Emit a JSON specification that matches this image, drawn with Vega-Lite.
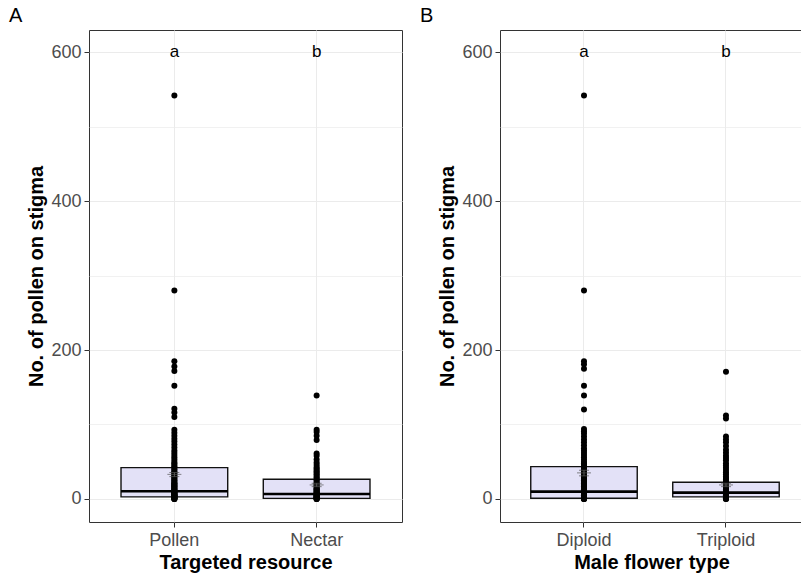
{
  "$schema": "https://vega.github.io/schema/vega-lite/v6.json",
  "padding": {"left": 8, "top": 5, "right": 0, "bottom": 0},
  "spacing": 16,
  "config": {
    "font": "Liberation Sans",
    "view": {"stroke": "#333333", "strokeWidth": 1},
    "axis": {
      "domain": false,
      "tickColor": "#333333",
      "tickSize": 5,
      "labelColor": "#4D4D4D",
      "labelFontSize": 18,
      "labelFont": "Liberation Sans",
      "titleFont": "Liberation Sans",
      "titleFontSize": 20,
      "titleFontWeight": "bold",
      "titleColor": "black",
      "gridColor": "#EBEBEB",
      "gridWidth": 1
    },
    "axisY": {"labelPadding": 3, "titlePadding": 4},
    "axisX": {"labelPadding": 4, "titlePadding": 3, "labelAngle": 0},
    "title": {"fontSize": 20, "fontWeight": "normal", "anchor": "start", "frame": "group", "dx": -80, "offset": 4, "color": "black", "font": "Liberation Sans"}
  },
  "datasets": {
    "statsA": [
      {"group": "Pollen", "lower": 0, "q1": 2.7, "median": 10.3, "q3": 42, "upper": 93, "mean": 33, "se_lo": 30, "se_hi": 35.5},
      {"group": "Nectar", "lower": 0, "q1": 0.8, "median": 6.7, "q3": 26.4, "upper": 61, "mean": 18.8, "se_lo": 16.5, "se_hi": 21}
    ],
    "statsB": [
      {"group": "Diploid", "lower": 0, "q1": 1, "median": 9.8, "q3": 43.4, "upper": 94, "mean": 35, "se_lo": 31, "se_hi": 38.5},
      {"group": "Triploid", "lower": 0, "q1": 2.7, "median": 8.5, "q3": 22.4, "upper": 52, "mean": 18.8, "se_lo": 16.5, "se_hi": 21}
    ],
    "lettersA": [
      {"group": "Pollen", "y": 600, "label": "a"},
      {"group": "Nectar", "y": 600, "label": "b"}
    ],
    "lettersB": [
      {"group": "Diploid", "y": 600, "label": "a"},
      {"group": "Triploid", "y": 600, "label": "b"}
    ],
    "ptsA": [
      {"group": "Pollen", "value": 542}, {"group": "Pollen", "value": 280}, {"group": "Pollen", "value": 185}, {"group": "Pollen", "value": 178},
      {"group": "Pollen", "value": 172}, {"group": "Pollen", "value": 152}, {"group": "Pollen", "value": 121}, {"group": "Pollen", "value": 116},
      {"group": "Pollen", "value": 110}, {"group": "Pollen", "value": 93}, {"group": "Pollen", "value": 89}, {"group": "Pollen", "value": 85},
      {"group": "Pollen", "value": 81}, {"group": "Pollen", "value": 77}, {"group": "Pollen", "value": 73}, {"group": "Pollen", "value": 69},
      {"group": "Pollen", "value": 65}, {"group": "Pollen", "value": 62}, {"group": "Pollen", "value": 59}, {"group": "Pollen", "value": 56},
      {"group": "Pollen", "value": 53}, {"group": "Pollen", "value": 50}, {"group": "Pollen", "value": 48}, {"group": "Pollen", "value": 46},
      {"group": "Pollen", "value": 44}, {"group": "Pollen", "value": 42}, {"group": "Pollen", "value": 40}, {"group": "Pollen", "value": 38},
      {"group": "Pollen", "value": 36}, {"group": "Pollen", "value": 35}, {"group": "Pollen", "value": 33}, {"group": "Pollen", "value": 31},
      {"group": "Pollen", "value": 30}, {"group": "Pollen", "value": 28}, {"group": "Pollen", "value": 27}, {"group": "Pollen", "value": 25},
      {"group": "Pollen", "value": 24}, {"group": "Pollen", "value": 22}, {"group": "Pollen", "value": 21}, {"group": "Pollen", "value": 20},
      {"group": "Pollen", "value": 19}, {"group": "Pollen", "value": 18}, {"group": "Pollen", "value": 17}, {"group": "Pollen", "value": 16},
      {"group": "Pollen", "value": 15}, {"group": "Pollen", "value": 14}, {"group": "Pollen", "value": 13}, {"group": "Pollen", "value": 12},
      {"group": "Pollen", "value": 11}, {"group": "Pollen", "value": 10}, {"group": "Pollen", "value": 10}, {"group": "Pollen", "value": 9},
      {"group": "Pollen", "value": 8}, {"group": "Pollen", "value": 8}, {"group": "Pollen", "value": 7}, {"group": "Pollen", "value": 6},
      {"group": "Pollen", "value": 6}, {"group": "Pollen", "value": 5}, {"group": "Pollen", "value": 5}, {"group": "Pollen", "value": 4},
      {"group": "Pollen", "value": 4}, {"group": "Pollen", "value": 3}, {"group": "Pollen", "value": 3}, {"group": "Pollen", "value": 2},
      {"group": "Pollen", "value": 2}, {"group": "Pollen", "value": 1}, {"group": "Pollen", "value": 1}, {"group": "Pollen", "value": 0},
      {"group": "Pollen", "value": 0}, {"group": "Pollen", "value": 0},
      {"group": "Nectar", "value": 139}, {"group": "Nectar", "value": 93}, {"group": "Nectar", "value": 90}, {"group": "Nectar", "value": 85},
      {"group": "Nectar", "value": 79}, {"group": "Nectar", "value": 61}, {"group": "Nectar", "value": 58}, {"group": "Nectar", "value": 53},
      {"group": "Nectar", "value": 49}, {"group": "Nectar", "value": 46}, {"group": "Nectar", "value": 43}, {"group": "Nectar", "value": 41},
      {"group": "Nectar", "value": 39}, {"group": "Nectar", "value": 37}, {"group": "Nectar", "value": 35}, {"group": "Nectar", "value": 33},
      {"group": "Nectar", "value": 31}, {"group": "Nectar", "value": 29}, {"group": "Nectar", "value": 27}, {"group": "Nectar", "value": 25},
      {"group": "Nectar", "value": 23}, {"group": "Nectar", "value": 21}, {"group": "Nectar", "value": 20}, {"group": "Nectar", "value": 18},
      {"group": "Nectar", "value": 17}, {"group": "Nectar", "value": 15}, {"group": "Nectar", "value": 14}, {"group": "Nectar", "value": 13},
      {"group": "Nectar", "value": 12}, {"group": "Nectar", "value": 11}, {"group": "Nectar", "value": 10}, {"group": "Nectar", "value": 9},
      {"group": "Nectar", "value": 8}, {"group": "Nectar", "value": 7}, {"group": "Nectar", "value": 6}, {"group": "Nectar", "value": 6},
      {"group": "Nectar", "value": 5}, {"group": "Nectar", "value": 4}, {"group": "Nectar", "value": 4}, {"group": "Nectar", "value": 3},
      {"group": "Nectar", "value": 3}, {"group": "Nectar", "value": 2}, {"group": "Nectar", "value": 2}, {"group": "Nectar", "value": 1},
      {"group": "Nectar", "value": 1}, {"group": "Nectar", "value": 0}, {"group": "Nectar", "value": 0}, {"group": "Nectar", "value": 0}
    ],
    "ptsB": [
      {"group": "Diploid", "value": 542}, {"group": "Diploid", "value": 280}, {"group": "Diploid", "value": 185}, {"group": "Diploid", "value": 181},
      {"group": "Diploid", "value": 175}, {"group": "Diploid", "value": 152}, {"group": "Diploid", "value": 139}, {"group": "Diploid", "value": 120},
      {"group": "Diploid", "value": 94}, {"group": "Diploid", "value": 91}, {"group": "Diploid", "value": 88}, {"group": "Diploid", "value": 84},
      {"group": "Diploid", "value": 80}, {"group": "Diploid", "value": 76}, {"group": "Diploid", "value": 72}, {"group": "Diploid", "value": 68},
      {"group": "Diploid", "value": 65}, {"group": "Diploid", "value": 62}, {"group": "Diploid", "value": 59}, {"group": "Diploid", "value": 56},
      {"group": "Diploid", "value": 53}, {"group": "Diploid", "value": 50}, {"group": "Diploid", "value": 48}, {"group": "Diploid", "value": 46},
      {"group": "Diploid", "value": 44}, {"group": "Diploid", "value": 42}, {"group": "Diploid", "value": 40}, {"group": "Diploid", "value": 38},
      {"group": "Diploid", "value": 36}, {"group": "Diploid", "value": 34}, {"group": "Diploid", "value": 32}, {"group": "Diploid", "value": 30},
      {"group": "Diploid", "value": 28}, {"group": "Diploid", "value": 27}, {"group": "Diploid", "value": 25}, {"group": "Diploid", "value": 24},
      {"group": "Diploid", "value": 22}, {"group": "Diploid", "value": 21}, {"group": "Diploid", "value": 20}, {"group": "Diploid", "value": 19},
      {"group": "Diploid", "value": 18}, {"group": "Diploid", "value": 17}, {"group": "Diploid", "value": 16}, {"group": "Diploid", "value": 15},
      {"group": "Diploid", "value": 14}, {"group": "Diploid", "value": 13}, {"group": "Diploid", "value": 12}, {"group": "Diploid", "value": 11},
      {"group": "Diploid", "value": 10}, {"group": "Diploid", "value": 10}, {"group": "Diploid", "value": 9}, {"group": "Diploid", "value": 8},
      {"group": "Diploid", "value": 8}, {"group": "Diploid", "value": 7}, {"group": "Diploid", "value": 6}, {"group": "Diploid", "value": 6},
      {"group": "Diploid", "value": 5}, {"group": "Diploid", "value": 5}, {"group": "Diploid", "value": 4}, {"group": "Diploid", "value": 4},
      {"group": "Diploid", "value": 3}, {"group": "Diploid", "value": 3}, {"group": "Diploid", "value": 2}, {"group": "Diploid", "value": 2},
      {"group": "Diploid", "value": 1}, {"group": "Diploid", "value": 1}, {"group": "Diploid", "value": 0}, {"group": "Diploid", "value": 0},
      {"group": "Diploid", "value": 0},
      {"group": "Triploid", "value": 171}, {"group": "Triploid", "value": 112}, {"group": "Triploid", "value": 108}, {"group": "Triploid", "value": 84},
      {"group": "Triploid", "value": 80}, {"group": "Triploid", "value": 76}, {"group": "Triploid", "value": 71}, {"group": "Triploid", "value": 66},
      {"group": "Triploid", "value": 62}, {"group": "Triploid", "value": 58}, {"group": "Triploid", "value": 55}, {"group": "Triploid", "value": 52},
      {"group": "Triploid", "value": 48}, {"group": "Triploid", "value": 45}, {"group": "Triploid", "value": 42}, {"group": "Triploid", "value": 39},
      {"group": "Triploid", "value": 36}, {"group": "Triploid", "value": 33}, {"group": "Triploid", "value": 30}, {"group": "Triploid", "value": 28},
      {"group": "Triploid", "value": 26}, {"group": "Triploid", "value": 24}, {"group": "Triploid", "value": 22}, {"group": "Triploid", "value": 20},
      {"group": "Triploid", "value": 18}, {"group": "Triploid", "value": 16}, {"group": "Triploid", "value": 15}, {"group": "Triploid", "value": 13},
      {"group": "Triploid", "value": 12}, {"group": "Triploid", "value": 11}, {"group": "Triploid", "value": 10}, {"group": "Triploid", "value": 9},
      {"group": "Triploid", "value": 8}, {"group": "Triploid", "value": 7}, {"group": "Triploid", "value": 6}, {"group": "Triploid", "value": 5},
      {"group": "Triploid", "value": 5}, {"group": "Triploid", "value": 4}, {"group": "Triploid", "value": 3}, {"group": "Triploid", "value": 2},
      {"group": "Triploid", "value": 2}, {"group": "Triploid", "value": 1}, {"group": "Triploid", "value": 1}, {"group": "Triploid", "value": 0},
      {"group": "Triploid", "value": 0}
    ]
  },
  "hconcat": [
    {
      "width": 313,
      "height": 492,
      "title": {"text": "A"},
      "encoding": {
        "x": {
          "field": "group", "type": "nominal", "sort": ["Pollen", "Nectar"],
          "title": "Targeted resource",
          "scale": {"paddingInner": 0.25, "paddingOuter": 0.225},
          "axis": {"bandPosition": 0.5, "grid": true}
        }
      },
      "layer": [
        {
          "data": {"name": "statsA"},
          "mark": {"type": "rule", "color": "black", "strokeWidth": 1},
          "encoding": {
            "y": {
              "field": "lower", "type": "quantitative", "title": "No. of pollen on stigma",
              "scale": {"domain": [-31, 630], "nice": false, "zero": false},
              "axis": {
                "values": [0, 100, 200, 300, 400, 500, 600],
                "labelExpr": "datum.value % 200 === 0 ? datum.label : ''",
                "tickOpacity": {"condition": {"test": "datum.value % 200 === 0", "value": 1}, "value": 0},
                "gridWidth": {"condition": {"test": "datum.value % 200 === 0", "value": 1}, "value": 0.7}
              }
            },
            "y2": {"field": "upper"}
          }
        },
        {
          "data": {"name": "statsA"},
          "mark": {"type": "bar", "fill": "#E3E1F7", "stroke": "#111111", "strokeWidth": 1.4},
          "encoding": {
            "y": {"field": "q1", "type": "quantitative", "title": "No. of pollen on stigma"},
            "y2": {"field": "q3"}
          }
        },
        {
          "data": {"name": "statsA"},
          "mark": {"type": "bar", "fill": "transparent", "stroke": "black", "strokeWidth": 2.6},
          "encoding": {
            "y": {"field": "median", "type": "quantitative", "title": "No. of pollen on stigma"},
            "y2": {"field": "median"}
          }
        },
        {
          "data": {"name": "ptsA"},
          "mark": {"type": "circle", "color": "black", "opacity": 1, "size": 36},
          "encoding": {
            "y": {"field": "value", "type": "quantitative", "title": "No. of pollen on stigma"}
          }
        },
        {
          "data": {"name": "statsA"},
          "mark": {"type": "rule", "color": "#555555", "strokeWidth": 1},
          "encoding": {
            "y": {"field": "se_lo", "type": "quantitative", "title": "No. of pollen on stigma"},
            "y2": {"field": "se_hi"}
          }
        },
        {
          "data": {"name": "statsA"},
          "mark": {"type": "tick", "color": "#555555", "thickness": 1, "size": 10},
          "encoding": {"y": {"field": "se_lo", "type": "quantitative", "title": "No. of pollen on stigma"}}
        },
        {
          "data": {"name": "statsA"},
          "mark": {"type": "tick", "color": "#555555", "thickness": 1, "size": 10},
          "encoding": {"y": {"field": "se_hi", "type": "quantitative", "title": "No. of pollen on stigma"}}
        },
        {
          "data": {"name": "statsA"},
          "mark": {"type": "tick", "color": "#555555", "thickness": 1, "size": 14},
          "encoding": {"y": {"field": "mean", "type": "quantitative", "title": "No. of pollen on stigma"}}
        },
        {
          "data": {"name": "lettersA"},
          "mark": {"type": "text", "color": "black", "fontSize": 17, "baseline": "middle", "align": "center"},
          "encoding": {
            "y": {"field": "y", "type": "quantitative", "title": "No. of pollen on stigma"},
            "text": {"field": "label"}
          }
        }
      ]
    },
    {
      "width": 303,
      "height": 492,
      "title": {"text": "B"},
      "encoding": {
        "x": {
          "field": "group", "type": "nominal", "sort": ["Diploid", "Triploid"],
          "title": "Male flower type",
          "scale": {"paddingInner": 0.25, "paddingOuter": 0.192, "align": 0.564},
          "axis": {"bandPosition": 0.5, "grid": true}
        }
      },
      "layer": [
        {
          "data": {"name": "statsB"},
          "mark": {"type": "rule", "color": "black", "strokeWidth": 1},
          "encoding": {
            "y": {
              "field": "lower", "type": "quantitative", "title": "No. of pollen on stigma",
              "scale": {"domain": [-31, 630], "nice": false, "zero": false},
              "axis": {
                "values": [0, 100, 200, 300, 400, 500, 600],
                "labelExpr": "datum.value % 200 === 0 ? datum.label : ''",
                "tickOpacity": {"condition": {"test": "datum.value % 200 === 0", "value": 1}, "value": 0},
                "gridWidth": {"condition": {"test": "datum.value % 200 === 0", "value": 1}, "value": 0.7}
              }
            },
            "y2": {"field": "upper"}
          }
        },
        {
          "data": {"name": "statsB"},
          "mark": {"type": "bar", "fill": "#E3E1F7", "stroke": "#111111", "strokeWidth": 1.4},
          "encoding": {
            "y": {"field": "q1", "type": "quantitative", "title": "No. of pollen on stigma"},
            "y2": {"field": "q3"}
          }
        },
        {
          "data": {"name": "statsB"},
          "mark": {"type": "bar", "fill": "transparent", "stroke": "black", "strokeWidth": 2.6},
          "encoding": {
            "y": {"field": "median", "type": "quantitative", "title": "No. of pollen on stigma"},
            "y2": {"field": "median"}
          }
        },
        {
          "data": {"name": "ptsB"},
          "mark": {"type": "circle", "color": "black", "opacity": 1, "size": 36},
          "encoding": {
            "y": {"field": "value", "type": "quantitative", "title": "No. of pollen on stigma"}
          }
        },
        {
          "data": {"name": "statsB"},
          "mark": {"type": "rule", "color": "#555555", "strokeWidth": 1},
          "encoding": {
            "y": {"field": "se_lo", "type": "quantitative", "title": "No. of pollen on stigma"},
            "y2": {"field": "se_hi"}
          }
        },
        {
          "data": {"name": "statsB"},
          "mark": {"type": "tick", "color": "#555555", "thickness": 1, "size": 10},
          "encoding": {"y": {"field": "se_lo", "type": "quantitative", "title": "No. of pollen on stigma"}}
        },
        {
          "data": {"name": "statsB"},
          "mark": {"type": "tick", "color": "#555555", "thickness": 1, "size": 10},
          "encoding": {"y": {"field": "se_hi", "type": "quantitative", "title": "No. of pollen on stigma"}}
        },
        {
          "data": {"name": "statsB"},
          "mark": {"type": "tick", "color": "#555555", "thickness": 1, "size": 14},
          "encoding": {"y": {"field": "mean", "type": "quantitative", "title": "No. of pollen on stigma"}}
        },
        {
          "data": {"name": "lettersB"},
          "mark": {"type": "text", "color": "black", "fontSize": 17, "baseline": "middle", "align": "center"},
          "encoding": {
            "y": {"field": "y", "type": "quantitative", "title": "No. of pollen on stigma"},
            "text": {"field": "label"}
          }
        }
      ]
    }
  ]
}
